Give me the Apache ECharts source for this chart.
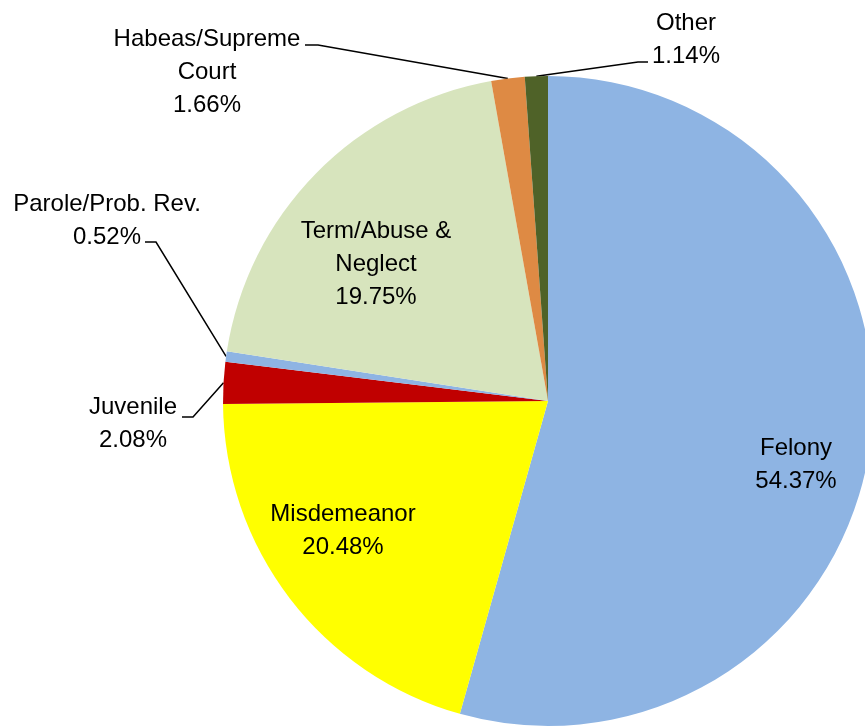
<!DOCTYPE html>
<html>
<head>
<meta charset="utf-8">
<style>
  html, body { margin: 0; padding: 0; background: #fff; }
  #chart { width: 865px; height: 726px; }
</style>
<script src="https://cdn.jsdelivr.net/npm/echarts@6/dist/echarts.min.js"></script>
</head>
<body>
<div id="chart"></div>
<script>
var categories = ['Felony', 'Misdemeanor', 'Juvenile', 'Parole/Prob. Rev.', 'Term/Abuse & Neglect', 'Habeas/Supreme Court', 'Other'];
var shares = [54.37, 20.48, 2.08, 0.52, 19.75, 1.66, 1.14];
var labelNames = ['Felony', 'Misdemeanor', 'Juvenile', 'Parole/Prob. Rev.', 'Term/Abuse &\nNeglect', 'Habeas/Supreme\nCourt', 'Other'];
var colors = ['#8EB4E3', '#FFFF00', '#C00000', '#8EB4E3', '#D7E4BD', '#DE8A44', '#4F6228'];

// where each label sits, and the bend/end of its leader line (outside labels only)
var labelSpots = [
  { x: 796, y: 465 },
  { x: 343, y: 531 },
  { x: 133, y: 424, bend: [193, 417], end: [182, 417] },
  { x: 107, y: 221, bend: [156, 242], end: [145, 242] },
  { x: 376, y: 264 },
  { x: 207, y: 72, bend: [318, 45], end: [305, 45] },
  { x: 686, y: 40, bend: [638, 62], end: [648, 62] }
];

var chart = echarts.init(document.getElementById('chart'), null, { renderer: 'canvas' });

var pieData = categories.map(function(name, i) {
  var outside = !!labelSpots[i].bend;
  return {
    name: name,
    value: shares[i],
    itemStyle: { color: colors[i] },
    label: { position: outside ? 'outside' : 'inside' },
    labelLine: { show: outside }
  };
});

chart.setOption({
  animation: false,
  series: [
    {
      type: 'pie',
      center: [548, 401],
      radius: 325,
      startAngle: 90,
      clockwise: true,
      avoidLabelOverlap: false,
      silent: true,
      itemStyle: { borderWidth: 0 },
      label: {
        show: true,
        color: '#000',
        fontFamily: 'Liberation Sans',
        fontSize: 24,
        lineHeight: 33,
        align: 'center',
        formatter: function(p) {
          return labelNames[p.dataIndex] + '\n' + p.value.toFixed(2) + '%';
        }
      },
      labelLine: {
        show: true,
        lineStyle: { color: '#000', width: 1.5 }
      },
      labelLayout: function(params) {
        var spot = labelSpots[params.dataIndex];
        var out = { x: spot.x, y: spot.y, align: 'center', verticalAlign: 'middle' };
        if (spot.bend && params.labelLinePoints) {
          out.labelLinePoints = [params.labelLinePoints[0], spot.bend, spot.end];
        }
        return out;
      },
      data: pieData
    }
  ]
});
window.addEventListener('resize', function() { chart.resize(); });
</script>
</body>
</html>
